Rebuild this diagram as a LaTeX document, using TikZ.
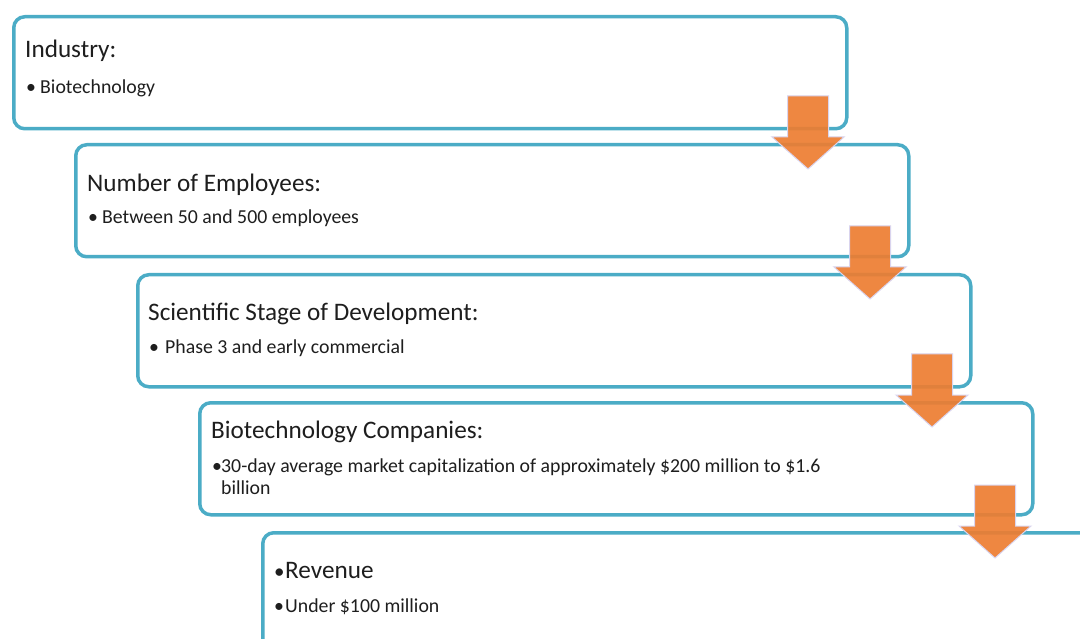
\documentclass[tikz,border=0pt]{standalone}
\usepackage{fontspec}
\setmainfont{Carlito}
\definecolor{boxblue}{HTML}{4BACC6}
\definecolor{arroworange}{HTML}{ED7D31}
\definecolor{arrowedge}{HTML}{D9D4EE}
\definecolor{txt}{HTML}{1E1E1E}

\begin{document}
\begin{tikzpicture}[x=1pt,y=-1pt,
  stagebox/.style={draw=boxblue, line width=3.5pt, rounded corners=11pt, fill=white,
    minimum width=833pt, minimum height=112pt, anchor=north west, inner sep=0pt},
  headtext/.style={anchor=base west, inner sep=0pt, font=\fontsize{25.2}{30}\selectfont, text=txt},
  itemtext/.style={anchor=base west, inner sep=0pt, font=\fontsize{19.8}{24}\selectfont, text=txt},
  downarrow/.pic={
    \path[fill=arroworange, fill opacity=0.92, draw=arrowedge, line width=1pt]
      (-20.5,0) -- (20.5,0) -- (20.5,41) -- (36,41) -- (0,73) -- (-36,41) -- (-20.5,41) -- cycle;
  }
]
\useasboundingbox (0,0) rectangle (1080,639);
\clip (0,0) rectangle (1080,639);

% stage boxes, stepping down to the right
\node[stagebox] (b1) at (12,15) {};
\node[stagebox] (b2) at (74,143) {};
\node[stagebox] (b3) at (136,273) {};
\node[stagebox] (b4) at (198,401) {};
\node[stagebox, minimum width=900pt, minimum height=150pt] (b5) at (261,531) {};

% block arrows between consecutive stages
\pic at (808,96) {downarrow};
\pic at (870,226) {downarrow};
\pic at (932,354) {downarrow};
\pic at (995,485) {downarrow};

% box texts
\node[headtext] (h1) at (25,58) {Industry:};
\node[itemtext] (i1) at (26,94) {\makebox[14pt][l]{•}Biotechnology};

\node[headtext] (h2) at (87,192) {Number of Employees:};
\node[itemtext] (i2) at (88,224) {\makebox[14pt][l]{•}Between 50 and 500 employees};

\node[headtext] (h3) at (148,320) {Scientific Stage of Development:};
\node[itemtext] (i3) at (149,354) {\makebox[16pt][l]{•}Phase 3 and early commercial};

\node[headtext] (h4) at (211,438) {Biotechnology Companies:};
\node[itemtext] (i4) at (212,472) {\makebox[9pt][l]{•}30-day average market capitalization of approximately \$200 million to \$1.6};
\node[itemtext] (i4b) at (221,494) {billion};

\node[headtext] (h5) at (274,578) {\makebox[11pt][l]{\fontsize{21}{24}\selectfont •}Revenue};
\node[itemtext] (i5) at (274,612) {\makebox[11pt][l]{•}Under \$100 million};
\end{tikzpicture}
\end{document}
